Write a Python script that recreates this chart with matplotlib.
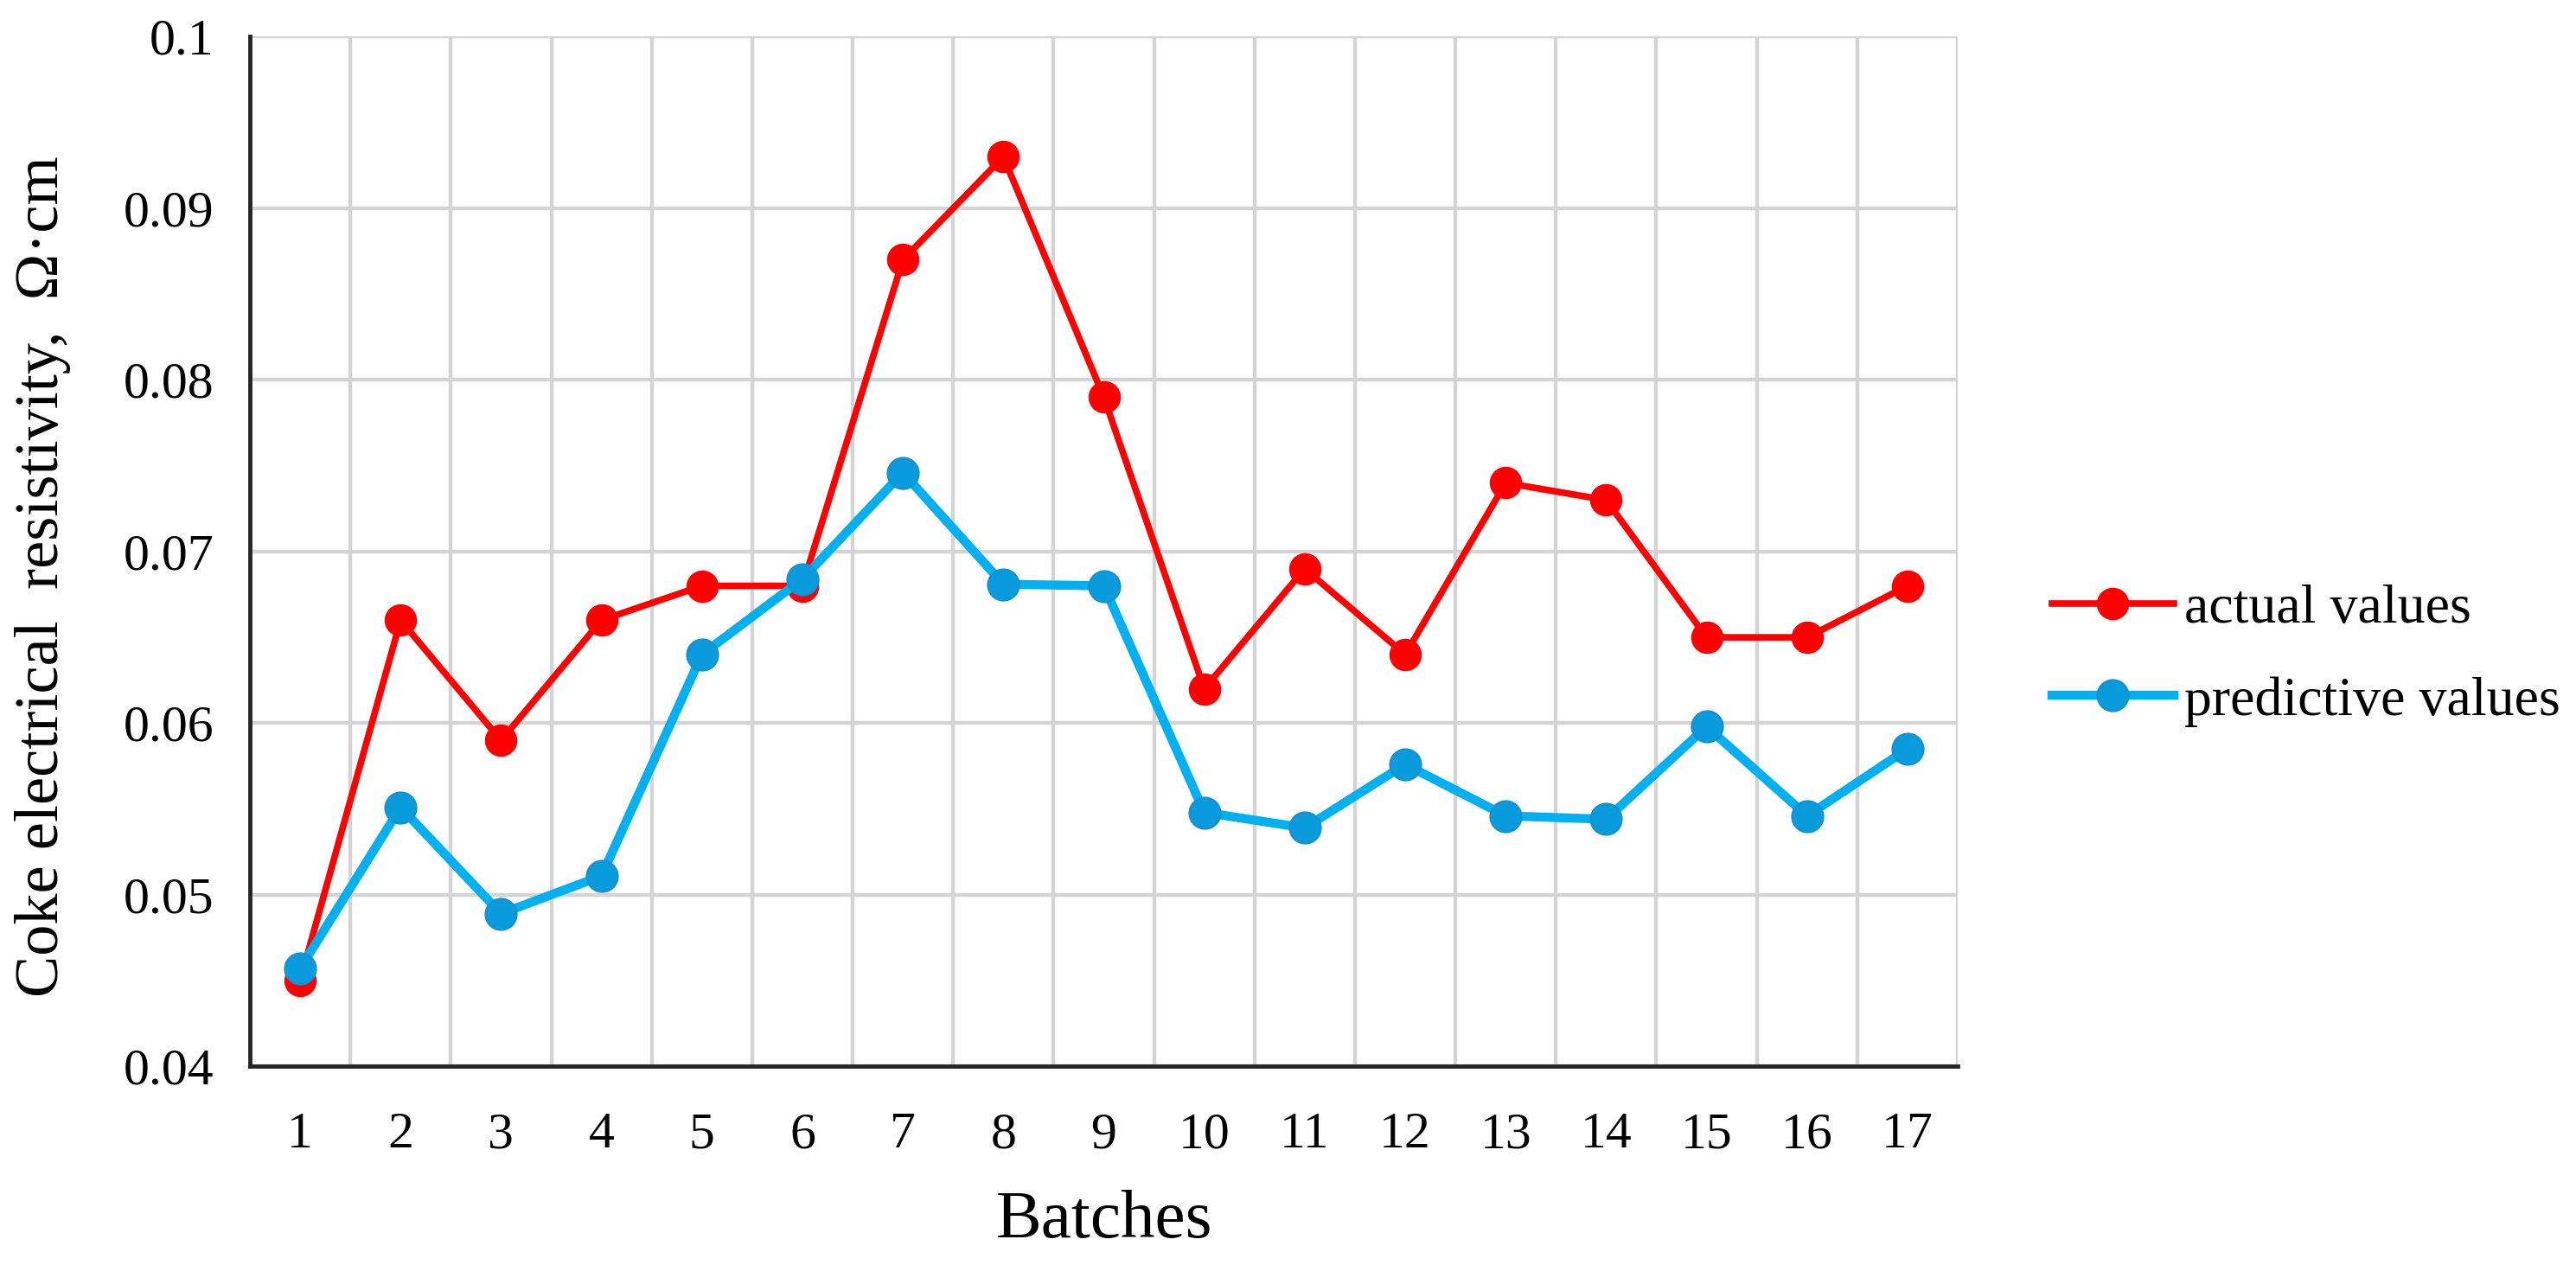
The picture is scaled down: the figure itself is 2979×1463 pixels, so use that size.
import matplotlib
matplotlib.use('Agg')
from matplotlib import pyplot as plt
from matplotlib.ticker import FixedLocator, FuncFormatter

batches = list(range(1, 18))
actual_values = [0.045, 0.066, 0.059, 0.066, 0.068, 0.068, 0.087, 0.093, 0.079,
                 0.062, 0.069, 0.064, 0.074, 0.073, 0.065, 0.065, 0.068]
predictive_values = [0.0457, 0.0551, 0.0489, 0.0511, 0.064, 0.0684, 0.0746, 0.0681, 0.068,
                     0.0548, 0.0539, 0.0576, 0.0546, 0.0544, 0.0598, 0.0546, 0.0585]
y_ticks = [0.04, 0.05, 0.06, 0.07, 0.08, 0.09, 0.1]

plt.rcParams['font.family'] = ['Liberation Serif', 'DejaVu Serif']

fig = plt.figure(figsize = [29.79, 14.63], dpi = 100)
ax = fig.add_axes([0.097, 0.157, 0.663, 0.814])

# Series
ax.plot(batches, actual_values, color = '#FF0000', linewidth = 5.5, marker = 'o',
        markersize = 26, markerfacecolor = '#FF0000', markeredgecolor = '#FF0000',
        label = 'actual values', zorder = 3)
ax.plot(batches, predictive_values, color = '#00B0F0', linewidth = 7.5, marker = 'o',
        markersize = 26, markerfacecolor = '#0A9BDC', markeredgecolor = '#1690D0',
        markeredgewidth = 1.5, label = 'predictive values', zorder = 4)

# Axes design
ax.set_xlim(0.5, 17.5)
ax.set_ylim(0.04, 0.1)
ax.set_xticks(batches)
ax.set_xticklabels([str(b) for b in batches])
ax.xaxis.set_minor_locator(FixedLocator([b + 0.5 for b in batches]))
ax.set_yticks(y_ticks)
ax.yaxis.set_major_formatter(FuncFormatter(lambda v, p: f'{v:g}'))

ax.grid(False)
ax.grid(True, which = 'minor', axis = 'x', color = '#D4D4D4', linewidth = 3.2)
ax.grid(True, which = 'major', axis = 'y', color = '#D4D4D4', linewidth = 3.2)
ax.set_axisbelow(True)

ax.tick_params(axis = 'both', which = 'both', length = 0, labelsize = 43, colors = '#000000')
ax.tick_params(axis = 'y', pad = 30)
ax.tick_params(axis = 'x', pad = 38)

for side in ['top', 'right']:
    ax.spines[side].set_visible(False)
for side in ['left', 'bottom']:
    ax.spines[side].set_color('#262626')
    ax.spines[side].set_linewidth(3.5)

ax.set_xlabel('Batches', fontsize = 57, labelpad = 26)
ax.set_ylabel('Coke electrical  resistivity,  \u03a9\u00b7cm', fontsize = 52)
ax.yaxis.set_label_coords(-0.105, 0.476)

fig.legend(loc = 'center left', bbox_to_anchor = (0.788, 0.482), frameon = False,
           fontsize = 46, handlelength = 2.2, handletextpad = 0.2, labelspacing = 0.75,
           borderaxespad = 0)

plt.savefig('out.png', dpi = 100)
plt.close()
